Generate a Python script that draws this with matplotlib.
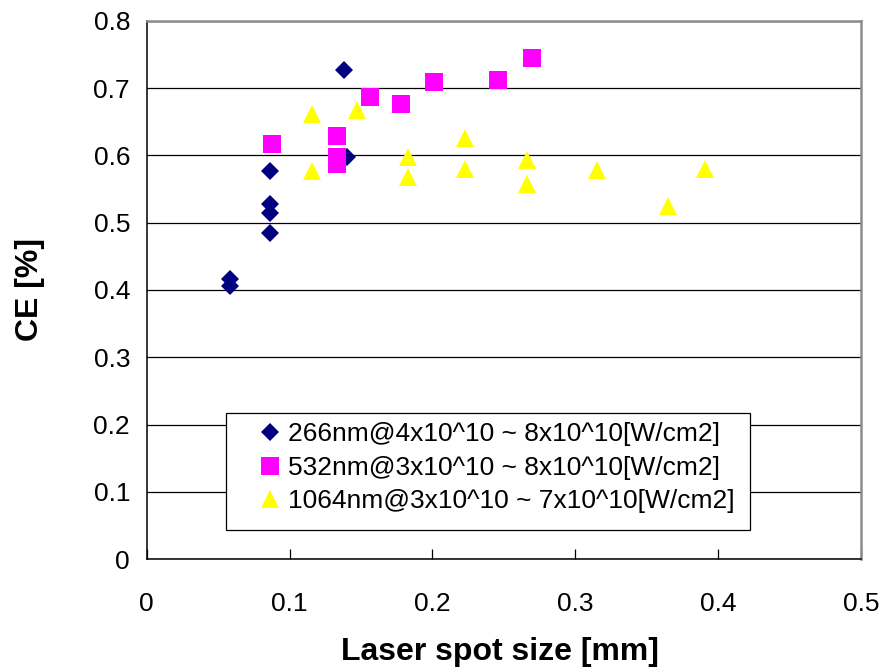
import matplotlib
matplotlib.use("Agg")
import matplotlib.pyplot as plt
from matplotlib.patches import Rectangle

plt.rcParams['font.family'] = ['Liberation Sans', 'DejaVu Sans']

# 266 nm series
x_266 = [0.138, 0.140, 0.086, 0.086, 0.086, 0.086, 0.0585, 0.0585]
y_266 = [0.727, 0.598, 0.576, 0.527, 0.514, 0.485, 0.416, 0.406]

# 532 nm series
x_532 = [0.088, 0.133, 0.133, 0.133, 0.156, 0.178, 0.201, 0.246, 0.270]
y_532 = [0.617, 0.628, 0.598, 0.587, 0.687, 0.676, 0.709, 0.712, 0.745]

# 1064 nm series
x_1064 = [0.116, 0.147, 0.116, 0.183, 0.183, 0.223, 0.223, 0.266, 0.266,
          0.315, 0.365, 0.391]
y_1064 = [0.661, 0.668, 0.576, 0.598, 0.568, 0.626, 0.580, 0.593, 0.558,
          0.578, 0.525, 0.580]

labels = ["266nm@4x10^10 ~ 8x10^10[W/cm2]",
          "532nm@3x10^10 ~ 8x10^10[W/cm2]",
          "1064nm@3x10^10 ~ 7x10^10[W/cm2]"]

x_ticks = [0, 0.1, 0.2, 0.3, 0.4, 0.5]
y_ticks = [0, 0.1, 0.2, 0.3, 0.4, 0.5, 0.6, 0.7, 0.8]


def main():
    fig = plt.figure(figsize=(8.84, 6.68), dpi=100)
    ax = fig.add_axes([0.166, 0.163, 0.808, 0.806])

    ax.plot(x_266, y_266, linestyle="none", marker="D", ms=9.3,
            color="#000080", mew=0, label=labels[0], zorder=3)
    ax.plot(x_532, y_532, linestyle="none", marker="s", ms=12.5,
            color="#FF00FF", mew=0, label=labels[1], zorder=3)
    ax.plot(x_1064, y_1064, linestyle="none", marker="^", ms=12.5,
            color="#FFFF00", mew=0, label=labels[2], zorder=3)

    ax.set_xlim(0, 0.5)
    ax.set_ylim(0, 0.8)
    ax.set_xticks(x_ticks)
    ax.set_xticklabels([f"{t:g}" for t in x_ticks])
    ax.set_yticks(y_ticks)
    ax.set_yticklabels([f"{t:g}" for t in y_ticks])

    ax.yaxis.grid(True, color="black", linewidth=0.9)
    ax.set_axisbelow(True)

    ax.tick_params(axis="x", direction="in", length=7, width=0.9,
                   labelsize=19, pad=24)
    ax.tick_params(axis="y", direction="in", length=0, labelsize=19, pad=12)

    for side in ("left", "bottom"):
        ax.spines[side].set_color("black")
        ax.spines[side].set_linewidth(1.1)
    for side in ("top", "right"):
        ax.spines[side].set_color("#8c8c8c")
        ax.spines[side].set_linewidth(1.8)

    ax.set_xlabel("Laser spot size [mm]", fontsize=23, fontweight="bold")
    ax.xaxis.set_label_coords(0.495, -0.145)
    ax.set_ylabel("CE [%]", fontsize=23, fontweight="bold")
    ax.yaxis.set_label_coords(-0.142, 0.5)

    box = Rectangle((0.111, 0.054), 0.734, 0.217, transform=ax.transAxes,
                    facecolor="white", edgecolor="black", linewidth=0.9,
                    zorder=4)
    ax.add_patch(box)

    leg = ax.legend(loc="upper left", bbox_to_anchor=(0.154, 0.254),
                    frameon=False, fontsize=19, borderpad=0,
                    borderaxespad=0, handlelength=1.0, handletextpad=0.2,
                    labelspacing=0.36, numpoints=1)
    leg.set_zorder(5)

    fig.savefig("out.png", dpi=100)


if __name__ == "__main__":
    main()
